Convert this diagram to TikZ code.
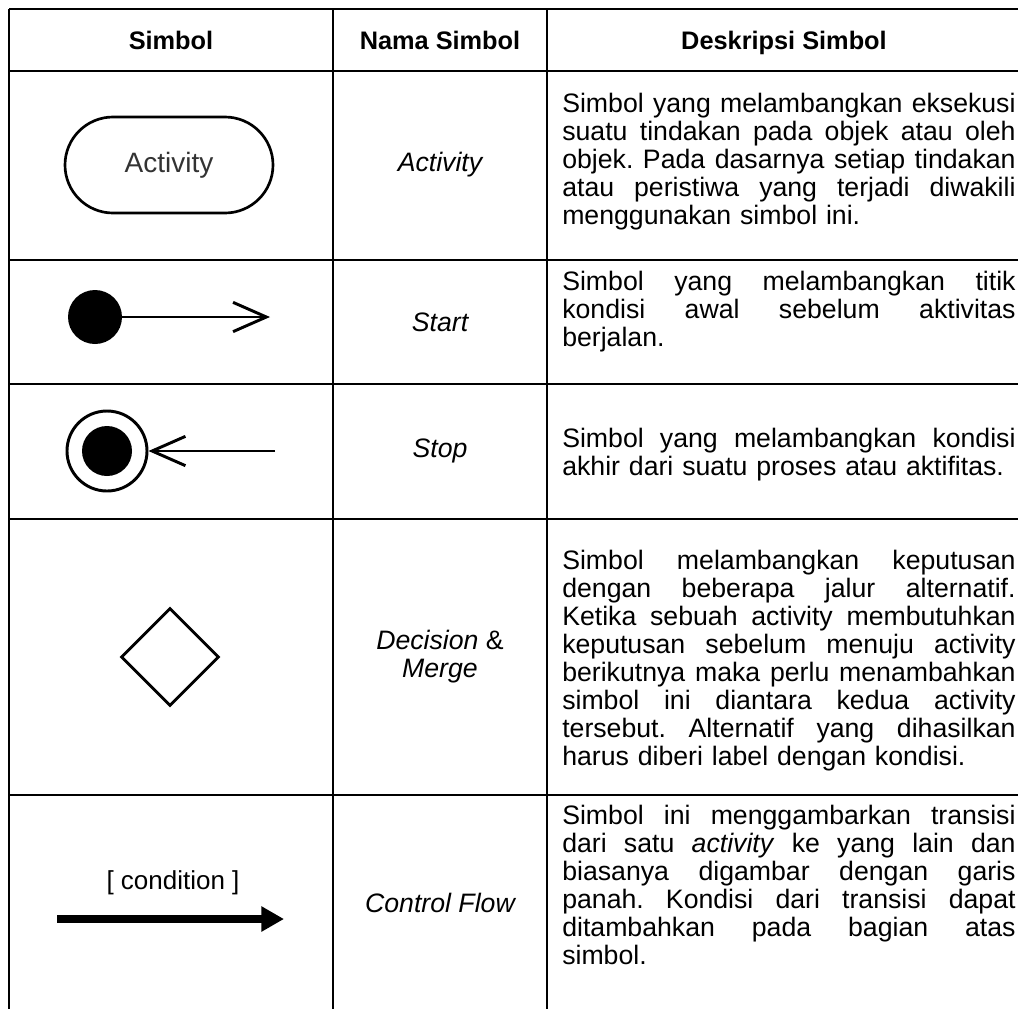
\documentclass[tikz,border=0pt]{standalone}
\usepackage{fontspec}
\setmainfont{Liberation Sans}
\usetikzlibrary{arrows.meta,shapes.geometric}
\frenchspacing

% width of the description column text
\newlength{\dw}
\setlength{\dw}{340pt}
% one justified line of a description (interword glue allowed to stretch)
\newcommand{\jl}[1]{{\spaceskip=0.278em plus 3em minus 0.05em\xspaceskip=\spaceskip
  \makebox[\dw][s]{#1}}\par}

\tikzset{
  grid/.style={line width=1.5pt, black},
  headtext/.style={font=\fontsize{19}{21}\selectfont\bfseries, inner sep=0pt, anchor=base},
  nametext/.style={font=\fontsize{20}{21}\selectfont\itshape, inner sep=0pt, align=center},
  desctext/.style={font=\fontsize{20}{21}\selectfont, inner sep=0pt, text width=\dw, align=left, anchor=north west},
  symline/.style={line width=2.2pt, black},
  pill/.style={draw, line width=2pt, rounded corners=36pt, minimum width=156pt, minimum height=72pt,
               font=\fontsize{21}{22}\selectfont, text=black!80},
  dotnode/.style={circle, fill=black, inner sep=0pt, minimum size=40.5pt},
  ringnode/.style={circle, draw, line width=2.2pt, inner sep=0pt, minimum size=60pt},
  innerdot/.style={circle, fill=black, inner sep=0pt, minimum size=37.5pt},
  decisionbox/.style={diamond, draw, line width=2.2pt, inner sep=0pt, minimum width=73.5pt, minimum height=73.5pt},
  barb/.style={-{Straight Barb[length=25pt,width=22pt,line width=2.2pt]}},
  flowarrow/.style={line width=6pt, -{Triangle[length=17pt,width=18pt]}},
}

\begin{document}
\begin{tikzpicture}[x=0.75pt,y=-0.75pt]
\useasboundingbox (0,0) rectangle (1018,1008);
\fill[white] (0,0) rectangle (1018,1008);
\begin{scope}
\clip (0,0) rectangle (1018,1008);

% table rules
\draw[grid] (9,9) -- (1030,9);
\draw[grid] (9,71) -- (1030,71);
\draw[grid] (9,260) -- (1030,260);
\draw[grid] (9,384) -- (1030,384);
\draw[grid] (9,519) -- (1030,519);
\draw[grid] (9,795) -- (1030,795);
\draw[grid] (9,9) -- (9,1030);
\draw[grid] (333,9) -- (333,1030);
\draw[grid] (547,9) -- (547,1030);
\end{scope}

% header row
\node[headtext] (h1) at (171,49) {Simbol};
\node[headtext] (h2) at (440,49) {Nama Simbol};
\node[headtext] (h3) at (784,49) {Deskripsi Simbol};

% symbols
\node[pill] (act) at (169,165) {Activity};

\node[dotnode] (sdot) at (95,317) {};
\coordinate (send) at (270,317);
\draw[symline,barb] (sdot.east) -- (send);

\node[ringnode] (ring) at (107,451) {};
\node[innerdot] (core) at (107,451) {};
\coordinate (stail) at (275,451);
\draw[symline,barb] (stail) -- (ring.east);

\node[decisionbox] (dec) at (170,657) {};

\node[font=\fontsize{19.5}{21}\selectfont, inner sep=0pt] (cond) at (173,883) {[ condition ]};
\coordinate (fstart) at (57,919);
\coordinate (fend) at (284,919);
\draw[flowarrow] (fstart) -- (fend);

% symbol names
\node[nametext] (n1) at (440,165) {Activity};
\node[nametext] (n2) at (440,322) {Start};
\node[nametext] (n3) at (440,451) {Stop};
\node[nametext] (n4) at (440,657) {Decision {\upshape\&}\\Merge};
\node[nametext] (n5) at (440,903) {Control Flow};

% descriptions
\node[desctext] (d1) at (562,93) {%
\jl{Simbol yang melambangkan eksekusi}
\jl{suatu tindakan pada objek atau oleh}
\jl{objek. Pada dasarnya setiap tindakan}
\jl{atau peristiwa yang terjadi diwakili}
menggunakan simbol ini.};

\node[desctext] (d2) at (562,271) {%
\jl{Simbol yang melambangkan titik}
\jl{kondisi awal sebelum aktivitas}
berjalan.};

\node[desctext] (d3) at (562,428) {%
\jl{Simbol yang melambangkan kondisi}
akhir dari suatu proses atau aktifitas.};

\node[desctext] (d4) at (562,550) {%
\jl{Simbol melambangkan keputusan}
\jl{dengan beberapa jalur alternatif.}
\jl{Ketika sebuah activity membutuhkan}
\jl{keputusan sebelum menuju activity}
\jl{berikutnya maka perlu menambahkan}
\jl{simbol ini diantara kedua activity}
\jl{tersebut. Alternatif yang dihasilkan}
harus diberi label dengan kondisi.};

\node[desctext] (d5) at (562,805) {%
\jl{Simbol ini menggambarkan transisi}
\jl{dari satu \textit{activity} ke yang lain dan}
\jl{biasanya digambar dengan garis}
\jl{panah. Kondisi dari transisi dapat}
\jl{ditambahkan pada bagian atas}
simbol.};
\end{tikzpicture}
\end{document}
